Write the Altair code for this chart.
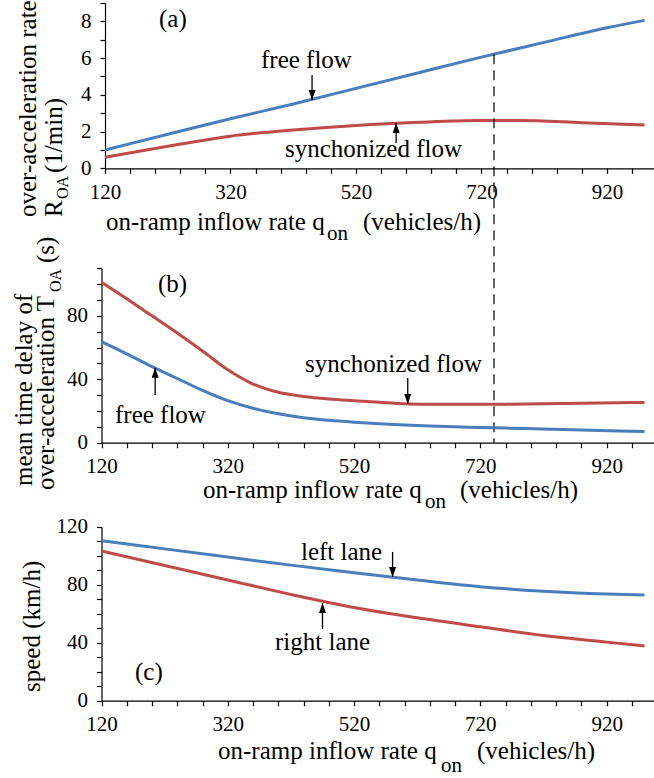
import altair as alt
import pandas as pd

# ---------------- data ----------------
# panel (a): over-acceleration rate R_OA (1/min)
q_a_free = [120, 220, 320, 420, 520, 620, 720, 820, 920, 980]
rate_free = [1.0, 1.85, 2.7, 3.5, 4.35, 5.2, 6.05, 6.85, 7.65, 8.05]
q_a_sync = [120, 220, 320, 420, 520, 620, 720, 780, 880, 980]
rate_sync = [0.6, 1.2, 1.75, 2.08, 2.33, 2.5, 2.6, 2.6, 2.48, 2.35]

# panel (b): mean time delay T_OA (s)
q_b = [120, 160, 200, 240, 280, 320, 360, 400, 440, 480, 520, 560, 600, 640, 700, 760, 820, 880, 940, 980]
delay_sync = [101.2, 90.8, 80, 69.2, 57.8, 46, 37, 31.8, 29.2, 27.6, 26.5, 25.5, 24.6, 24.3, 24.2, 24.3, 24.6, 24.9, 25.2, 25.4]
delay_free = [63.8, 56, 48, 40.5, 33, 26.5, 21.7, 18.2, 15.7, 14.1, 12.9, 11.9, 11.1, 10.5, 9.8, 9.2, 8.6, 8, 7.4, 7.0]

# panel (c): speed (km/h)
q_c = [120, 220, 320, 420, 520, 620, 720, 820, 920, 980]
speed_left = [110.3, 104.7, 99.1, 93.5, 88.2, 83.2, 78.6, 75.5, 73.6, 72.9]
speed_right = [103.2, 93.2, 83.3, 73.3, 64.3, 57.2, 51, 45, 40.4, 37.7]

# critical point (dashed line)
q_crit = 740
rate_crit = 6.2

# arrows: (q, tail value, tip value)
arrows_a = [(450, 5.08, 3.72), (584, 1.38, 2.47)]
arrows_b = [(605, 40.8, 24.4), (205, 30.1, 47.2)]
arrows_c = [(581, 102.6, 85.3), (470, 49.4, 67.4)]

x_tick_values = list(range(120, 1000, 40))

# ---------------- style / layout ----------------
FONT = "Liberation Serif"
W, H = 654, 778
BLUE = "#4a7ebb"
RED = "#be4b48"
DOWN = "M-0.35,-1L0.35,-1L0,0Z"
UP = "M-0.35,1L0.35,1L0,0Z"


def x_axis(axis_y):
    return alt.Axis(values=x_tick_values,
                    labelExpr="(datum.value - 120) % 200 == 0 ? datum.label : ''",
                    orient="bottom", offset=axis_y - H, title=None, grid=False,
                    tickSize=5, labelPadding=8, labelOverlap=False, labelFlush=False,
                    format="d")


def y_axis(axis_x, values, mod):
    return alt.Axis(values=values,
                    labelExpr=f"datum.value % {mod} == 0 ? datum.label : ''",
                    orient="left", offset=-axis_x, title=None, grid=False,
                    tickSize=5, labelPadding=9, labelOverlap=False, labelFlush=False,
                    format="d")


def series_df(qs, vs, color):
    return pd.DataFrame({"q": qs, "v": vs, "c": color})


def arrows_df(arrs):
    rows = []
    for q, tail, tip in arrs:
        rows.append({"q": q, "tail": tail, "tip": tip,
                     "shape": DOWN if tip < tail else UP})
    return pd.DataFrame(rows)


def make_panel(df, arrs, xs, ys, xax, yax, extra=None):
    lines = alt.Chart(df).mark_line(strokeWidth=3, interpolate="monotone").encode(
        x=alt.X("q:Q", scale=xs, axis=xax),
        y=alt.Y("v:Q", scale=ys, axis=yax),
        color=alt.Color("c:N", scale=None),
    )
    adf = arrows_df(arrs)
    shafts = alt.Chart(adf).mark_rule(color="black", strokeWidth=1.3).encode(
        x=alt.X("q:Q", scale=xs, axis=xax),
        y=alt.Y("tail:Q", scale=ys, axis=yax),
        y2="tip:Q",
    )
    heads = alt.Chart(adf).mark_point(filled=True, color="black", opacity=1, size=400,
                                      strokeWidth=0).encode(
        x=alt.X("q:Q", scale=xs, axis=xax),
        y=alt.Y("tip:Q", scale=ys, axis=yax),
        shape=alt.Shape("shape:N", scale=None),
    )
    layers = [lines, shafts, heads]
    if extra is not None:
        layers.append(extra)
    return alt.layer(*layers)


# ---- panel (a)
xs_a = alt.Scale(domain=[120, 995], range=[105, 654], nice=False, zero=False)
ys_a = alt.Scale(domain=[0, 9], range=[168.3, 2.9], nice=False)
xa_a = x_axis(168.3)
ya_a = y_axis(105, list(range(0, 10)), 2)
df_a = pd.concat([series_df(q_a_free, rate_free, BLUE), series_df(q_a_sync, rate_sync, RED)])
dash = alt.Chart(pd.DataFrame({"q": [q_crit], "v": [rate_crit]})).mark_rule(
    color="black", strokeWidth=1.2, strokeDash=[10, 6]).encode(
    x=alt.X("q:Q", scale=xs_a, axis=xa_a),
    y=alt.Y("v:Q", scale=ys_a, axis=ya_a),
    y2=alt.value(442.7),
)
panel_a = make_panel(df_a, arrows_a, xs_a, ys_a, xa_a, ya_a, dash)

# ---- panel (b)
xs_b = alt.Scale(domain=[120, 995], range=[101.5, 654], nice=False, zero=False)
ys_b = alt.Scale(domain=[0, 110], range=[442.7, 268.3], nice=False)
xa_b = x_axis(442.7)
ya_b = y_axis(101.5, list(range(0, 111, 10)), 40)
df_b = pd.concat([series_df(q_b, delay_free, BLUE), series_df(q_b, delay_sync, RED)])
panel_b = make_panel(df_b, arrows_b, xs_b, ys_b, xa_b, ya_b)

# ---- panel (c)
xs_c = alt.Scale(domain=[120, 995], range=[101.5, 654], nice=False, zero=False)
ys_c = alt.Scale(domain=[0, 120], range=[700.7, 526.7], nice=False)
xa_c = x_axis(700.7)
ya_c = y_axis(101.5, list(range(0, 121, 10)), 40)
df_c = pd.concat([series_df(q_c, speed_left, BLUE), series_df(q_c, speed_right, RED)])
panel_c = make_panel(df_c, arrows_c, xs_c, ys_c, xa_c, ya_c)

# ---- text (titles, labels); (text, x px, y px, font size, angle)
texts = [
    # panel (a)
    ("over-acceleration rate", 36, 217, 25, 270),
    ("R", 62, 217, 25, 270),
    ("OA", 68, 199, 16, 270),
    ("(1/min)", 62, 173, 25, 270),
    ("on-ramp inflow rate q", 106, 230, 25, 0),
    ("on", 327, 240, 21, 0),
    ("(vehicles/h)", 363, 230, 25, 0),
    ("(a)", 159, 27, 25, 0),
    ("free flow", 261, 68, 25, 0),
    ("synchonized flow", 285, 157, 25, 0),
    # panel (b)
    ("mean time delay of", 32, 486, 25, 270),
    ("over-acceleration T", 54, 490, 25, 270),
    ("OA", 61, 292, 16, 270),
    ("(s)", 54, 263, 25, 270),
    ("on-ramp inflow rate q", 203, 498, 25, 0),
    ("on", 425, 508, 21, 0),
    ("(vehicles/h)", 460, 498, 25, 0),
    ("(b)", 158, 292, 25, 0),
    ("synchonized flow", 305, 372, 25, 0),
    ("free flow", 115, 423, 25, 0),
    # panel (c)
    ("speed (km/h)", 40, 692, 25, 270),
    ("on-ramp inflow rate q", 218, 759, 25, 0),
    ("on", 441, 772, 21, 0),
    ("(vehicles/h)", 477, 759, 25, 0),
    ("(c)", 135, 680, 25, 0),
    ("left lane", 301, 560, 25, 0),
    ("right lane", 275, 650, 25, 0),
]
tdf = pd.DataFrame(texts, columns=["t", "px", "py", "fs", "ang"])
text_layer = alt.Chart(tdf).mark_text(align="left", baseline="alphabetic", font=FONT,
                                      color="black").encode(
    x=alt.X("px:Q", scale=None),
    y=alt.Y("py:Q", scale=None),
    text="t:N",
    size=alt.Size("fs:Q", scale=None),
    angle=alt.Angle("ang:Q", scale=None),
)

chart = alt.layer(panel_a, panel_b, panel_c, text_layer).resolve_scale(
    x="independent", y="independent"
).resolve_axis(
    x="independent", y="independent"
).properties(
    width=W, height=H, padding=0,
    autosize=alt.AutoSizeParams(type="none"),
    background="white",
).configure_view(stroke=None).configure_text(font=FONT).configure_axis(
    labelFont=FONT, labelFontSize=21, labelColor="black",
    domainColor="black", tickColor="black", domainWidth=1.2, tickWidth=1.2,
)

chart.save("out.html", embed_options={"renderer": "svg", "actions": False})
